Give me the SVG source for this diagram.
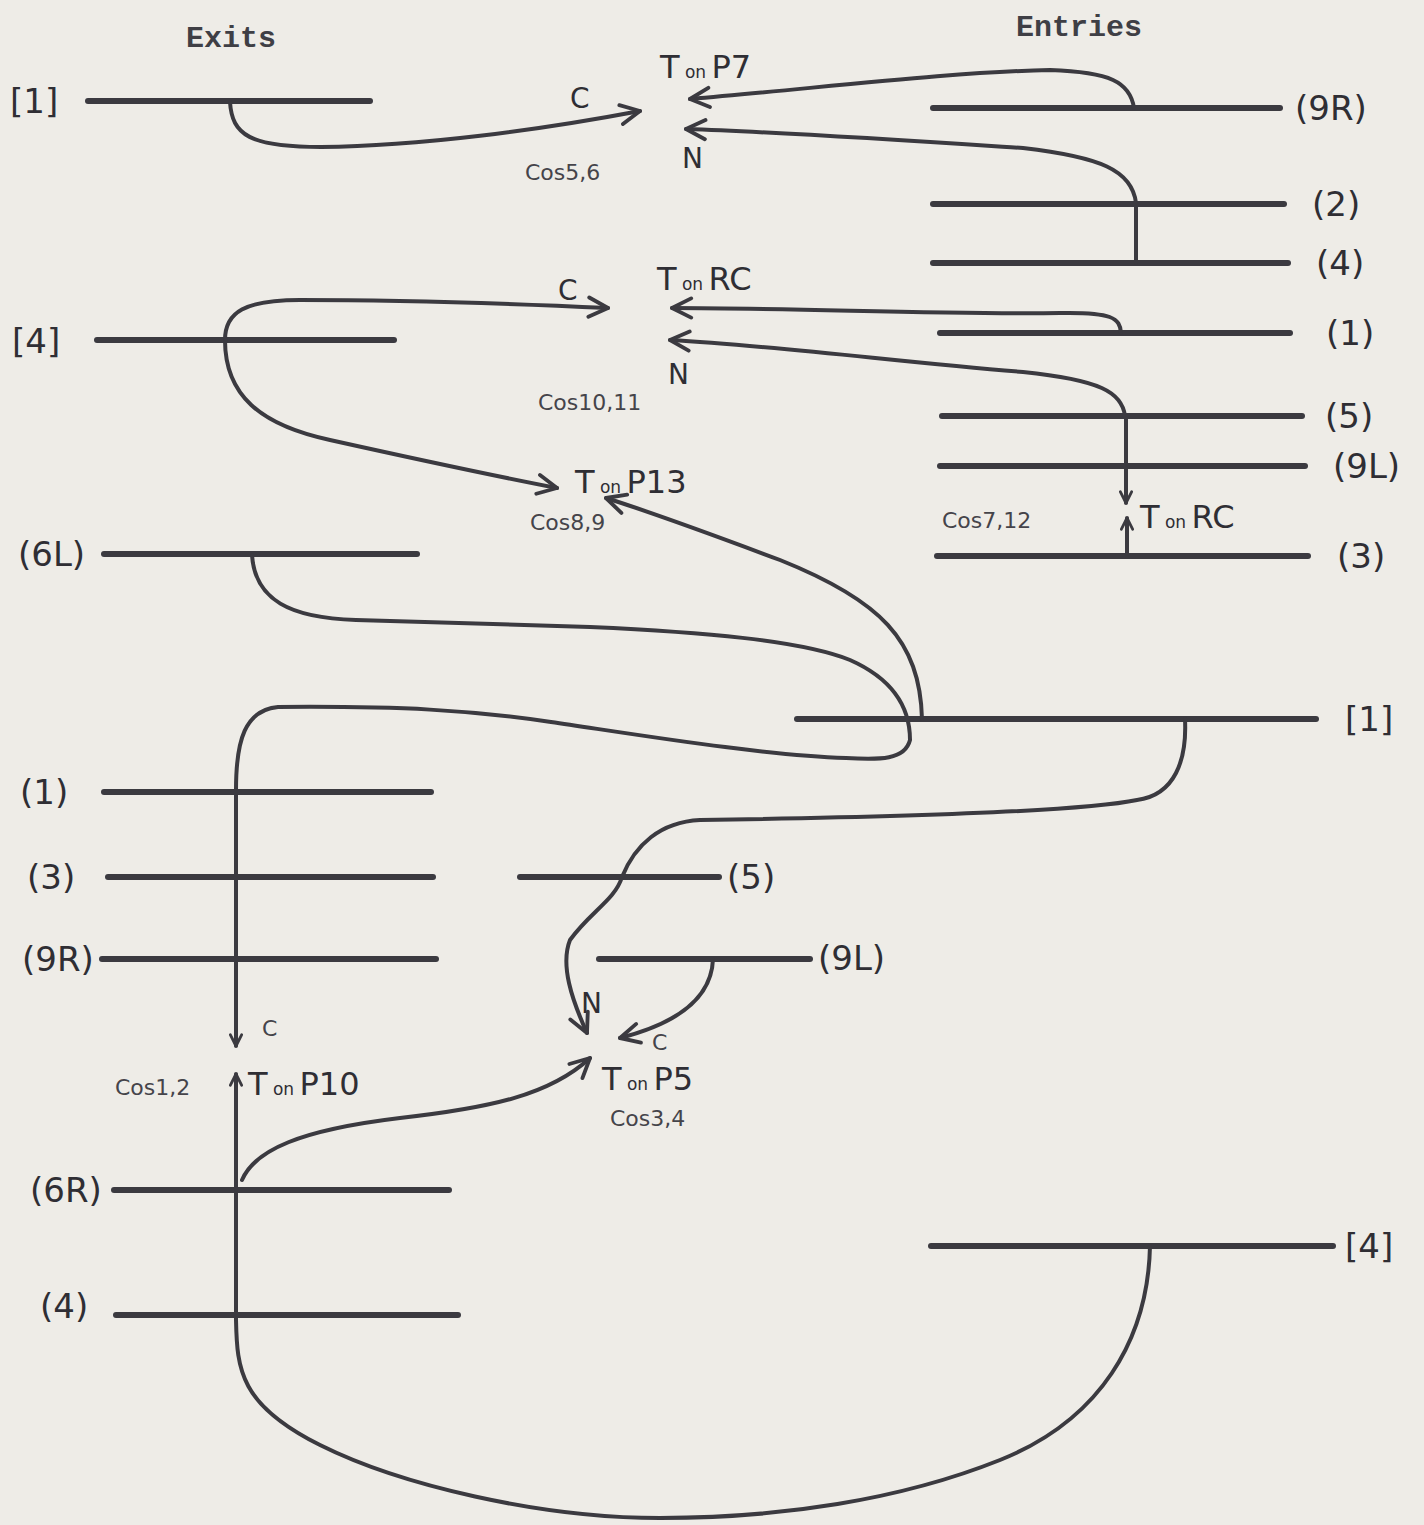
<svg xmlns="http://www.w3.org/2000/svg" width="1424" height="1525" viewBox="0 0 1424 1525">
<defs>
<style>
.bar{stroke:#3b3a40;stroke-width:6;stroke-linecap:round;fill:none}
.con{fill:none;stroke:#3b3a40;stroke-width:4;stroke-linecap:round;stroke-linejoin:round}
.lbl{font-family:"DejaVu Sans","Noto Sans",sans-serif;font-size:34px;fill:#2f2e34}
.hdr{font-family:"Liberation Mono","DejaVu Sans Mono",monospace;font-weight:bold;font-size:30px;fill:#3f3f45}
.tl{font-family:"DejaVu Sans","Noto Sans",sans-serif;font-size:32px;fill:#2f2e34}
.on{font-size:17px}
.cos{font-family:"DejaVu Sans","Noto Sans",sans-serif;font-size:22px;fill:#45444a}
.cn{font-family:"DejaVu Sans","Noto Sans",sans-serif;font-size:28px;fill:#2f2e34}
</style>
<marker id="ah" viewBox="0 0 20 20" refX="18" refY="10" markerWidth="24" markerHeight="24" markerUnits="userSpaceOnUse" orient="auto">
<path d="M2,2 L18,10 L2,18" fill="none" stroke="#3b3a40" stroke-width="3.2" stroke-linecap="round" stroke-linejoin="round"/>
</marker>
<marker id="ahs" viewBox="0 0 20 20" refX="18" refY="10" markerWidth="14" markerHeight="14" markerUnits="userSpaceOnUse" orient="auto">
<path d="M2,2 L18,10 L2,18" fill="none" stroke="#3b3a40" stroke-width="4" stroke-linecap="round" stroke-linejoin="round"/>
</marker>
</defs>
<rect x="0" y="0" width="1424" height="1525" fill="#eeece7"/>
<text class="hdr" x="186" y="47">Exits</text>
<text class="hdr" x="1016" y="36">Entries</text>

<g id="exit-1"><line class="bar" x1="88" y1="101" x2="370" y2="101"/><text class="lbl" x="10" y="113">[1]</text></g>
<g id="exit-4"><line class="bar" x1="97" y1="340" x2="394" y2="340"/><text class="lbl" x="12" y="353">[4]</text></g>
<g id="exit-6L"><line class="bar" x1="104" y1="554" x2="417" y2="554"/><text class="lbl" x="18" y="566">(6L)</text></g>
<g id="exit-1b"><line class="bar" x1="104" y1="792" x2="431" y2="792"/><text class="lbl" x="20" y="804">(1)</text></g>
<g id="exit-3"><line class="bar" x1="108" y1="877" x2="433" y2="877"/><text class="lbl" x="27" y="889">(3)</text></g>
<g id="exit-9R"><line class="bar" x1="102" y1="959" x2="436" y2="959"/><text class="lbl" x="22" y="971">(9R)</text></g>
<g id="exit-6R"><line class="bar" x1="114" y1="1190" x2="449" y2="1190"/><text class="lbl" x="30" y="1202">(6R)</text></g>
<g id="exit-4b"><line class="bar" x1="116" y1="1315" x2="458" y2="1315"/><text class="lbl" x="40" y="1318">(4)</text></g>

<g id="entry-9R"><line class="bar" x1="933" y1="108" x2="1280" y2="108"/><text class="lbl" x="1295" y="120">(9R)</text></g>
<g id="entry-2"><line class="bar" x1="933" y1="204" x2="1284" y2="204"/><text class="lbl" x="1312" y="216">(2)</text></g>
<g id="entry-4"><line class="bar" x1="933" y1="263" x2="1288" y2="263"/><text class="lbl" x="1316" y="275">(4)</text></g>
<g id="entry-1"><line class="bar" x1="940" y1="333" x2="1290" y2="333"/><text class="lbl" x="1326" y="345">(1)</text></g>
<g id="entry-5"><line class="bar" x1="942" y1="416" x2="1302" y2="416"/><text class="lbl" x="1325" y="428">(5)</text></g>
<g id="entry-9L"><line class="bar" x1="940" y1="466" x2="1305" y2="466"/><text class="lbl" x="1333" y="478">(9L)</text></g>
<g id="entry-3"><line class="bar" x1="937" y1="556" x2="1308" y2="556"/><text class="lbl" x="1337" y="568">(3)</text></g>
<g id="entry-1b"><line class="bar" x1="797" y1="719" x2="1316" y2="719"/><text class="lbl" x="1345" y="731">[1]</text></g>
<g id="entry-5b"><line class="bar" x1="520" y1="877" x2="719" y2="877"/><text class="lbl" x="727" y="889">(5)</text></g>
<g id="entry-9Lb"><line class="bar" x1="599" y1="959" x2="810" y2="959"/><text class="lbl" x="818" y="970">(9L)</text></g>
<g id="entry-4b"><line class="bar" x1="931" y1="1246" x2="1333" y2="1246"/><text class="lbl" x="1345" y="1258">[4]</text></g>

<g id="t-p7"><text class="tl" x="660" y="78">T<tspan class="on"> on </tspan>P7</text><text class="cn" x="570" y="108">C</text><text class="cn" x="682" y="168">N</text><text class="cos" x="525" y="180">Cos5,6</text></g>
<g id="t-rc"><text class="tl" x="657" y="290">T<tspan class="on"> on </tspan>RC</text><text class="cn" x="558" y="300">C</text><text class="cn" x="668" y="384">N</text><text class="cos" x="538" y="410">Cos10,11</text></g>
<g id="t-p13"><text class="tl" x="575" y="493">T<tspan class="on"> on </tspan>P13</text><text class="cos" x="530" y="530">Cos8,9</text></g>
<g id="t-rc2"><text class="cos" x="942" y="528">Cos7,12</text><text class="tl" x="1140" y="528">T<tspan class="on"> on </tspan>RC</text></g>
<g id="t-p10"><text class="cos" x="115" y="1095">Cos1,2</text><text class="tl" x="248" y="1095">T<tspan class="on"> on </tspan>P10</text><text class="cos" x="262" y="1036">C</text></g>
<g id="t-p5"><text class="tl" x="602" y="1090">T<tspan class="on"> on </tspan>P5</text><text class="cos" x="610" y="1126">Cos3,4</text><text class="cn" x="581" y="1013">N</text><text class="cos" x="652" y="1050">C</text></g>

<g id="connectors">
<path class="con" marker-end="url(#ah)" d="M230,102 C232,135 250,147 321,147 C420,146 540,130 640,111"/>
<path class="con" marker-end="url(#ah)" d="M1134,108 C1130,82 1110,72 1050,70 C950,72 820,88 690,99"/>
<path class="con" marker-end="url(#ah)" d="M1136,263 L1136,203 C1132,170 1100,157 1023,148 C900,140 780,132 686,129"/>
<path class="con" marker-end="url(#ah)" d="M225,340 C225,312 245,300 300,300 C420,300 520,304 608,308"/>
<path class="con" marker-end="url(#ah)" d="M225,340 C225,395 260,425 330,440 C420,460 490,475 557,488"/>
<path class="con" marker-end="url(#ah)" d="M1121,333 C1120,318 1112,312 1060,313 C950,315 800,308 672,308"/>
<path class="con" marker-end="url(#ah)" d="M1125,416 C1122,392 1100,380 1023,372 C900,362 780,346 670,340"/>
<path class="con" marker-end="url(#ahs)" d="M1126,416 L1126,503"/>
<path class="con" marker-end="url(#ahs)" d="M1127,556 L1127,518"/>
<path class="con" marker-end="url(#ah)" d="M922,719 C920,640 880,600 780,560 C700,530 650,512 606,498"/>
<path class="con" marker-end="url(#ahs)" d="M252,555 C255,600 290,618 356,620 L590,627 C700,632 800,640 850,660 C895,680 910,710 910,740 C905,760 880,760 846,758 C760,755 640,735 551,722 C470,710 400,706 278,707 C245,710 236,740 236,790 L236,1046"/>
<path class="con" marker-end="url(#ah)" d="M1185,719 C1187,760 1175,795 1137,800 C1080,812 900,817 700,820 C660,822 635,845 622,877 C615,900 590,912 570,940 C560,965 572,1000 587,1033"/>
<path class="con" marker-end="url(#ah)" d="M713,959 C712,990 690,1020 620,1038"/>
<path class="con" marker-end="url(#ah)" d="M242,1180 C255,1150 300,1130 400,1118 C490,1108 550,1095 590,1058"/>
<path class="con" marker-end="url(#ahs)" d="M1150,1246 C1148,1340 1100,1420 1000,1460 S780,1518 660,1518 S400,1485 320,1445 S237,1370 236,1320 L236,1074"/>
</g>
</svg>
